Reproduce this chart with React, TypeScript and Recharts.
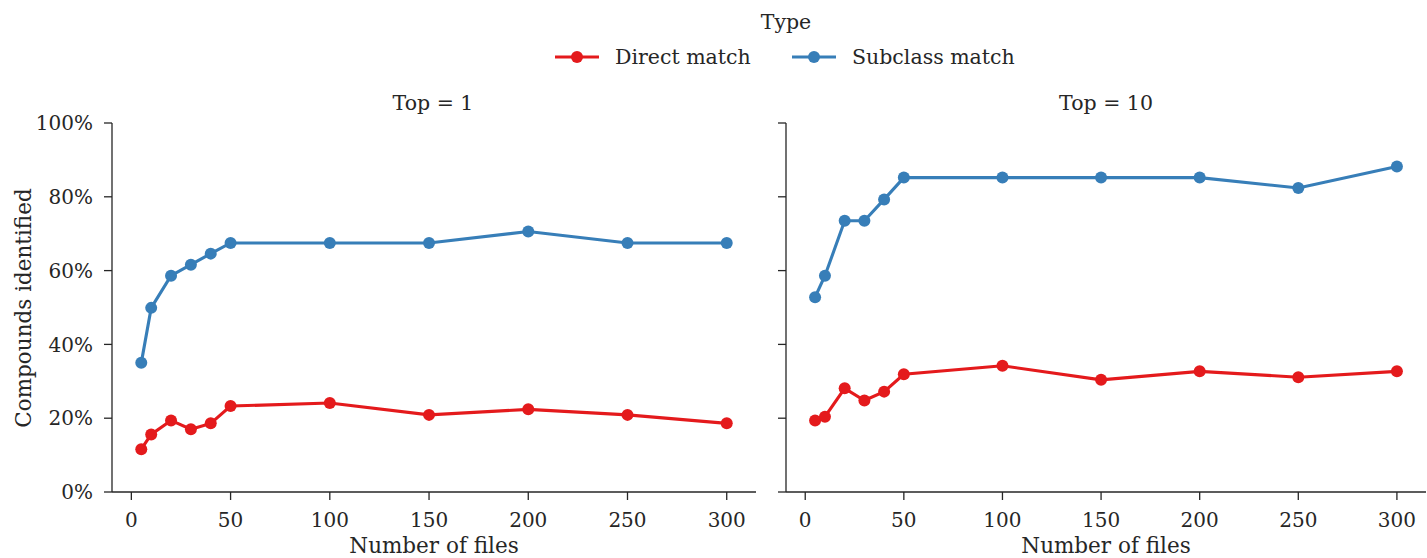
import React from 'react';
import { LineChart, Line, XAxis, YAxis } from 'recharts';

const files = [5, 10, 20, 30, 40, 50, 100, 150, 200, 250, 300];
const top1Direct = [11.6, 15.6, 19.4, 17.0, 18.6, 23.3, 24.1, 20.9, 22.4, 20.9, 18.6];
const top1Subclass = [35.0, 49.9, 58.6, 61.6, 64.6, 67.5, 67.5, 67.5, 70.6, 67.5, 67.5];
const top10Direct = [19.4, 20.4, 28.1, 24.8, 27.2, 31.9, 34.2, 30.4, 32.7, 31.1, 32.7];
const top10Subclass = [52.8, 58.6, 73.5, 73.5, 79.3, 85.2, 85.2, 85.2, 85.2, 82.4, 88.2];
const xTicks = [0, 50, 100, 150, 200, 250, 300];
const yTicks = [0, 20, 40, 60, 80, 100];
const seriesNames = ['Direct match', 'Subclass match'];
const panelTitles = ['Top = 1', 'Top = 10'];

const RED = '#e41a1c';
const BLUE = '#377eb8';
const AX = '#262626';
const FONT = 'DejaVu Serif';
const LW = 3.1;
const R = 6;

const build = (d: number[], s: number[]) => files.map((x, i) => ({ x, direct: d[i], subclass: s[i] }));
const data1 = build(top1Direct, top1Subclass);
const data10 = build(top10Direct, top10Subclass);

const Panel = ({ data, showYLabels }: { data: any[]; showYLabels: boolean }) => (
  <LineChart
    width={showYLabels ? 770 : 752}
    height={558}
    data={data}
    margin={{ top: 123, right: showYLabels ? 14 : 0, bottom: 0, left: 0 }}
    style={{ fontFamily: FONT }}
  >
    <XAxis
      type="number"
      dataKey="x"
      domain={[-9.75, 314.75]}
      ticks={xTicks}
      allowDataOverflow
      height={66}
      tickSize={8}
      tickMargin={13}
      stroke={AX}
      strokeWidth={1.3}
      tick={{ fill: AX, fontSize: 20, fontFamily: FONT }}
      tickLine={{ stroke: AX, strokeWidth: 1.3 }}
    />
    <YAxis
      type="number"
      domain={[0, 100]}
      ticks={yTicks}
      width={112}
      tickSize={8}
      tickMargin={11}
      stroke={AX}
      strokeWidth={1.3}
      tickFormatter={(v: number) => `${v}%`}
      tick={showYLabels ? { fill: AX, fontSize: 20, fontFamily: FONT } : () => <g />}
      tickLine={{ stroke: AX, strokeWidth: 1.3 }}
    />
    <Line
      dataKey="direct"
      name={seriesNames[0]}
      stroke={RED}
      strokeWidth={LW}
      dot={{ r: R, fill: RED, stroke: RED, strokeWidth: 0 }}
      isAnimationActive={false}
    />
    <Line
      dataKey="subclass"
      name={seriesNames[1]}
      stroke={BLUE}
      strokeWidth={LW}
      dot={{ r: R, fill: BLUE, stroke: BLUE, strokeWidth: 0 }}
      isAnimationActive={false}
    />
  </LineChart>
);

export default function App() {
  return (
    <div style={{ position: 'absolute', left: 0, top: 0, width: 1427, height: 558, background: '#fff', overflow: 'hidden' }}>
      <div style={{ position: 'absolute', left: 0, top: 0 }}>
        <Panel data={data1} showYLabels={true} />
      </div>
      <div style={{ position: 'absolute', left: 674, top: 0 }}>
        <Panel data={data10} showYLabels={false} />
      </div>
      <svg
        width={1427}
        height={558}
        style={{ position: 'absolute', left: 0, top: 0, pointerEvents: 'none' }}
        fontFamily={FONT}
        fill={AX}
      >
        <text x={786} y={29} fontSize={20.5} textAnchor="middle">Type</text>
        <line x1={555} x2={599} y1={57} y2={57} stroke={RED} strokeWidth={LW} />
        <circle cx={577} cy={57} r={R} fill={RED} />
        <text x={615} y={64} fontSize={20.5}>{seriesNames[0]}</text>
        <line x1={792} x2={836} y1={57} y2={57} stroke={BLUE} strokeWidth={LW} />
        <circle cx={814} cy={57} r={R} fill={BLUE} />
        <text x={852} y={64} fontSize={20.5}>{seriesNames[1]}</text>
        <text x={433} y={110} fontSize={20.5} textAnchor="middle">{panelTitles[0]}</text>
        <text x={1106} y={110} fontSize={20.5} textAnchor="middle">{panelTitles[1]}</text>
        <text x={434} y={553} fontSize={21.5} textAnchor="middle">Number of files</text>
        <text x={1106} y={553} fontSize={21.5} textAnchor="middle">Number of files</text>
        <text
          x={23}
          y={308}
          fontSize={21.5}
          textAnchor="middle"
          dominantBaseline="central"
          transform="rotate(-90 23 308)"
        >
          Compounds identified
        </text>
      </svg>
    </div>
  );
}
